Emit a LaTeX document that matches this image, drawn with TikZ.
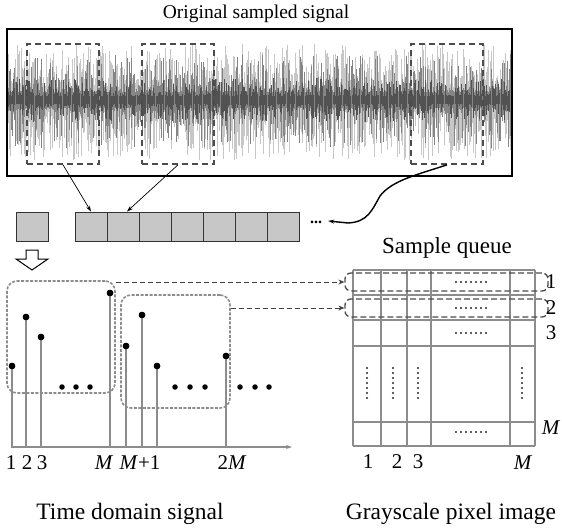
\documentclass[tikz,border=0pt]{standalone}
\usepackage{fontspec}
\setmainfont{Liberation Serif}
\usetikzlibrary{arrows.meta}
\begin{document}
\begin{tikzpicture}[x=1pt,y=-1pt,
 qbox/.style={draw=black!80, fill=black!22, line width=0.9pt, minimum width=32pt, minimum height=29pt, inner sep=0pt},
 selbox/.style={draw=black!70, dash pattern=on 6pt off 4pt, line width=1.6pt, inner sep=0pt, minimum width=72pt, minimum height=120pt},
 tbox/.style={draw=black!45, dash pattern=on 3pt off 1.5pt, line width=1.6pt, rounded corners=10pt, inner sep=0pt},
 rbox/.style={draw=black!70, dash pattern=on 6pt off 3pt, line width=1.3pt, rounded corners=6pt, inner sep=0pt, minimum width=203pt, minimum height=18pt},
 sdot/.style={circle, fill=black, inner sep=0pt, minimum size=6.5pt},
 stem/.style={draw=black!45, line width=2.4pt},
 gline/.style={draw=black!45, line width=1.3pt},
 lbl/.style={inner sep=0pt, font=\fontsize{21}{21}\selectfont},
 captext/.style={inner sep=0pt, font=\fontsize{23.5}{24}\selectfont},
 tdot/.style={circle, fill=black, inner sep=0pt, minimum size=5.5pt},
 dline/.style={draw=black!75, dash pattern=on 5pt off 3pt, line width=0.9pt, -{Stealth[length=6pt,width=5pt]}},
 arr/.style={draw=black, line width=0.7pt, -{Stealth[length=6pt,width=4pt]}},
]
\useasboundingbox (0,0) rectangle (562,532);

% ---------- original signal ----------
\node[inner sep=0pt, font=\fontsize{19.5}{20}\selectfont] (title) at (256,14) {Original sampled signal};
\begin{scope}
\clip (7,29) rectangle (512,176);
\pgfmathsetseed{7}
\foreach \i in {0,...,800}{
  \pgfmathsetmacro\xx{8+\i*0.63}
  \pgfmathsetmacro\up{12+44*rnd^2}
  \pgfmathsetmacro\dn{12+48*rnd^2}
  \draw[black!22, line width=0.7pt] (\xx,100-\up) -- (\xx,100+\dn);
}
\foreach \i in {0,...,600}{
  \pgfmathsetmacro\xx{8+\i*0.84}
  \pgfmathsetmacro\up{8+38*rnd^3}
  \pgfmathsetmacro\dn{8+40*rnd^3}
  \draw[black!48, line width=0.7pt] (\xx,100-\up) -- (\xx,100+\dn);
}
\foreach \i in {0,...,450}{
  \pgfmathsetmacro\xx{8+\i*1.12}
  \pgfmathsetmacro\up{4+18*rnd^2}
  \pgfmathsetmacro\dn{4+18*rnd^2}
  \draw[black!68, line width=0.6pt] (\xx,100-\up) -- (\xx,100+\dn);
}
\end{scope}
\node[draw=black, line width=1.5pt, inner sep=0pt, minimum width=505pt, minimum height=147pt] (sig) at (259.5,102.5) {};
\node[selbox] (b1) at (63,104) {};
\node[selbox] (b2) at (178,104) {};
\node[selbox] (b3) at (447,104) {};

% ---------- sample queue ----------
\node[qbox] (q0) at (32,226.5) {};
\foreach \k in {1,...,7}{
  \node[qbox] (q\k) at (59+32*\k,226.5) {};
}
\node[inner sep=0pt, font=\fontsize{16}{16}\selectfont\bfseries] (qdots) at (316,222) {...};
\draw[arr] (b1.south) -- (q1.north);
\draw[arr] (b2.south) -- ([xshift=4pt]q2.north);
\draw[line width=1.4pt, -{Stealth[length=6pt,width=4pt]}] (b3.south) .. controls (420,174) and (392,180) .. (380,196) .. controls (372,210) and (368,222) .. (348,223) -- ([xshift=6pt,yshift=1pt]qdots.east);

% hollow arrow
\draw[line width=1pt, fill=white] (26,250) -- (38,250) -- (38,259) -- (48,259) -- (32,270) -- (16,259) -- (26,259) -- cycle;

% ---------- time domain ----------
\coordinate (ax0) at (11,447);
\coordinate (ax1) at (292,447);
\draw[draw=black!45, line width=1.2pt, -{Stealth[length=6pt,width=4pt]}] (ax0) -- (ax1);
\node[tbox, minimum width=108pt, minimum height=112pt] (tA) at (61,337) {};
\node[tbox, minimum width=109pt, minimum height=113pt] (tB) at (175.5,351.5) {};

\node[sdot] (s1) at (12,366) {};
\node[sdot] (s2) at (26,317) {};
\node[sdot] (s3) at (41,337) {};
\node[sdot] (s4) at (110,293) {};
\node[sdot] (s5) at (126,346) {};
\node[sdot] (s6) at (142,315) {};
\node[sdot] (s7) at (157,366) {};
\node[sdot] (s8) at (226,356) {};
\foreach \s in {1,...,8}{
  \draw[stem] (s\s.center) -- (s\s |- ax0);
  \node[sdot] at (s\s) {};
}
\foreach \x [count=\n] in {62,76,90,175,190,205,240,255,269}{
  \node[tdot] (td\n) at (\x,387) {};
}

\node[lbl] (l1) at (11,463) {1};
\node[lbl] (l2) at (27,463) {2};
\node[lbl] (l3) at (42,463) {3};
\node[lbl] (lM) at (104,463) {\textit{M}};
\node[lbl] (lM1) at (140,463) {\textit{M}+1};
\node[lbl] (l2M) at (232,463) {2\textit{M}};

% ---------- grayscale image ----------
\node[inner sep=0pt, font=\fontsize{23}{23}\selectfont] (sq) at (447,248) {Sample queue};
\foreach \y in {270,295,320,346,422,446}{
  \draw[gline] (353,\y) -- (535,\y);
}
\foreach \x in {353,381,407,431,510,535}{
  \draw[gline] (\x,270) -- (\x,446);
}
\foreach \y in {282,308,333,432}{
  \foreach \k in {0,...,6}{
    \fill[black!85] (456+\k*5,\y) circle (1.2pt);
  }
}
\foreach \x in {367,393,418,522}{
  \foreach \k in {0,...,6}{
    \fill[black!85] (\x,368+\k*5) circle (1.2pt);
  }
}
\node[rbox] (r1) at (446.5,282) {};
\node[rbox] (r2) at (446.5,308) {};
\draw[dline] (tA.north east |- r1.west) -- (r1.west);
\draw[dline] (tB.east |- r2.west) -- (r2.west);

\node[lbl] (rr1) at (551,282) {1};
\node[lbl] (rr2) at (551,308) {2};
\node[lbl] (rr3) at (551,333) {3};
\node[lbl] (rrM) at (551,428) {\textit{M}};
\node[lbl] (c1) at (368,462) {1};
\node[lbl] (c2) at (397,462) {2};
\node[lbl] (c3) at (418,462) {3};
\node[lbl] (cM) at (523,463) {\textit{M}};

% ---------- captions ----------
\node[captext] (cap1) at (130,514) {Time domain signal};
\node[captext] (cap2) at (451,514) {Grayscale pixel image};
\end{tikzpicture}
\end{document}
